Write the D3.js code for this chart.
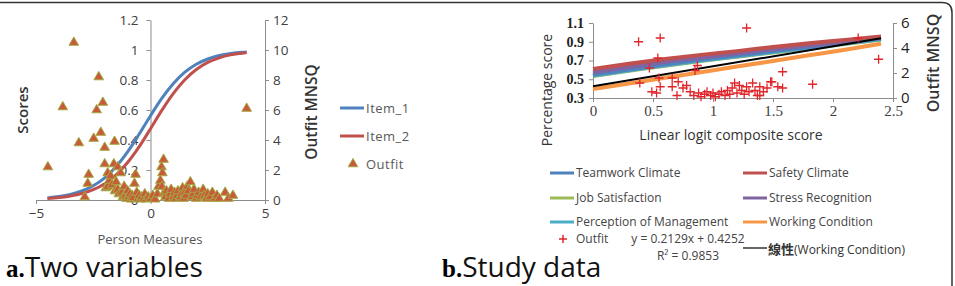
<!DOCTYPE html>
<html>
<head>
<meta charset="utf-8">
<script src="https://cdn.jsdelivr.net/npm/d3@7"></script>
<style>
body{margin:0;background:#fff}
svg text{font-family:"Open Sans",sans-serif}
</style>
</head>
<body>
<div id="chart"></div>
<script>
// ---- panel a data ----
var measuresA = [-4.5,-4,-3.5,-3,-2.5,-2,-1.5,-1,-0.5,0,0.5,1,1.5,2,2.5,3,3.5,4,4.2];
var item1 = [0.014,0.023,0.037,0.06,0.095,0.148,0.223,0.321,0.438,0.562,0.679,0.777,0.852,0.905,0.94,0.963,0.977,0.985,0.987];
var item2 = [0.01,0.016,0.027,0.043,0.069,0.109,0.168,0.25,0.354,0.475,0.599,0.711,0.802,0.87,0.917,0.948,0.968,0.979,0.983];
var outfitA = [
  [-4.48,2.2],[-3.83,6.2],[-3.35,10.5],[-3.13,3.8],[-2.87,0.2],[-2.74,1.1],[-2.7,1.7],[-2.48,4.1],[-2.35,6.0],[-2.26,8.2],
  [-2.17,4.5],[-2.08,6.5],[-2.0,3.5],[-2.0,2.4],[-1.95,0.8],[-1.87,1.8],[-1.87,0.9],[-1.8,1.3],[-1.74,1.6],[-1.68,1.0],
  [-1.6,2.4],[-1.57,3.9],[-1.55,0.6],[-1.5,1.2],[-1.43,2.2],[-1.43,0.7],[-1.38,0.4],[-1.3,1.8],[-1.25,0.5],[-1.2,0.2],
  [-1.15,0.9],[-1.1,0.3],[-1.05,0.1],[-1.0,0.6],[-0.95,0.2],[-0.9,0.4],[-0.85,0.05],[-0.8,0.3],[-0.75,0.15],[-0.7,1.1],
  [-0.65,1.7],[-0.6,0.5],[-0.55,0.1],[-0.5,0.3],[-0.45,0.05],[-0.4,0.2],[-0.3,0.1],[-0.25,0.4],[-0.2,0.05],[-0.1,0.2],
  [0.0,0.1],[0.1,0.3],[0.2,0.05],[0.3,0.4],[0.35,0.9],[0.43,1.3],[0.48,2.2],[0.5,0.9],[0.52,1.8],[0.57,2.7],
  [0.6,0.5],[0.65,0.2],[0.7,0.6],[0.8,0.1],[0.85,0.4],[0.9,0.7],[1.0,0.2],[1.05,0.5],[1.1,0.1],[1.15,0.3],
  [1.2,0.6],[1.3,0.2],[1.35,0.4],[1.4,0.8],[1.45,0.1],[1.5,0.5],[1.55,0.3],[1.6,0.9],[1.65,0.6],[1.74,1.2],
  [1.8,0.2],[1.85,0.4],[1.9,0.7],[2.0,0.1],[2.05,0.3],[2.1,0.5],[2.2,0.2],[2.3,0.7],[2.35,0.3],[2.45,0.1],
  [2.5,0.4],[2.6,0.2],[2.7,0.5],[2.8,0.1],[2.9,0.3],[3.0,0.1],[3.26,0.5],[3.4,0.1],[3.6,0.3],[4.2,6.1]
];
var ticksA = [0,0.2,0.4,0.6,0.8,1,1.2];
var ticksA2 = [0,2,4,6,8,10,12];

// ---- panel b data ----
var logitB = [0,0.3,0.6,0.9,1.2,1.5,1.8,2.1,2.4];
var seriesNames = ["Teamwork Climate","Safety Climate","Job Satisfaction","Stress Recognition","Perception of Management","Working Condition"];
var seriesColors = ["#4f81bd","#c0504d","#9bbb59","#8064a2","#4bacc6","#f79646"];
var teamwork   = [0.55,0.605,0.66,0.71,0.755,0.80,0.845,0.89,0.935];
var safety     = [0.61,0.665,0.715,0.76,0.80,0.845,0.885,0.92,0.955];
var jobSat     = [0.535,0.59,0.645,0.695,0.74,0.785,0.83,0.875,0.925];
var stress     = [0.575,0.63,0.685,0.73,0.775,0.82,0.86,0.90,0.945];
var perception = [0.54,0.595,0.65,0.70,0.745,0.79,0.835,0.88,0.928];
var working    = [0.395,0.455,0.515,0.575,0.635,0.695,0.755,0.815,0.88];
var trendX = [0,2.4];
var trendY = [0.4252,0.9362];
var outfitB = [
  [0.38,4.5],[0.39,1.2],[0.47,2.4],[0.49,0.5],[0.53,0.4],[0.54,3.2],[0.55,1.6],[0.56,4.8],[0.56,0.9],[0.66,1.6],
  [0.66,0.9],[0.7,0.2],[0.71,1.3],[0.75,0.8],[0.78,1.0],[0.81,0.5],[0.85,2.2],[0.87,2.6],[0.84,0.2],[0.88,0.4],
  [0.9,0.1],[0.93,0.3],[0.95,0.5],[0.98,0.2],[1.0,0.4],[1.02,0.1],[1.05,0.3],[1.07,0.5],[1.1,0.2],[1.12,0.6],
  [1.14,0.3],[1.16,0.8],[1.18,1.2],[1.2,0.4],[1.22,1.0],[1.24,0.6],[1.26,0.3],[1.28,0.9],[1.28,5.6],[1.3,0.5],
  [1.33,1.2],[1.35,0.6],[1.37,0.2],[1.39,0.9],[1.39,0.2],[1.42,0.5],[1.45,0.8],[1.48,1.3],[1.49,1.3],[1.54,0.9],
  [1.58,2.1],[1.58,0.8],[1.83,1.1],[2.21,4.8],[2.38,3.1]
];
var ticksBx = [0,0.5,1,1.5,2,2.5];
var ticksBy = [0.3,0.5,0.7,0.9,1.1];
var ticksBy2 = [0,2,4,6];

var W = 955, H = 286;
var svg = d3.select("#chart").append("svg").attr("width",W).attr("height",H);

// frame
svg.append("path")
  .attr("d","M0,2.5 H942 Q952,2.5 952,12.5 V286")
  .attr("fill","none").attr("stroke","#333").attr("stroke-width",1.5);

var axisCol = "#8c8c8c", labCol = "#404040";
function styleAxis(g, font, size, weight, col){
  g.selectAll("path,line").attr("stroke",axisCol);
  g.selectAll("text").style("font-family",font).style("font-size",size+"px")
    .style("font-weight",weight).attr("fill",col||labCol);
}

// ===== panel a =====
var xa = d3.scaleLinear().domain([-5,5]).range([36,265]);
var ya = d3.scaleLinear().domain([0,1.2]).range([200,20]);
var ya2 = d3.scaleLinear().domain([0,12]).range([200,20]);

var fmt = function(d){ return String(+d.toFixed(1)); };
var gx = svg.append("g").attr("transform","translate(0,200)")
  .call(d3.axisBottom(xa).tickValues([-5,0,5]).tickSize(4).tickSizeOuter(0).tickPadding(4));
styleAxis(gx,"Open Sans",13.5,400);
var gy = svg.append("g").attr("transform","translate("+xa(0)+",0)")
  .call(d3.axisLeft(ya).tickValues(ticksA).tickFormat(fmt).tickSize(4).tickSizeOuter(0).tickPadding(8));
styleAxis(gy,"Open Sans",13.5,400);
var gy2 = svg.append("g").attr("transform","translate(265,0)")
  .call(d3.axisRight(ya2).tickValues(ticksA2).tickSize(4).tickSizeOuter(0).tickPadding(4));
styleAxis(gy2,"Open Sans",13.5,400);

var lineA = function(vals){
  return d3.line().x(function(d,i){return xa(measuresA[i]);}).y(function(d){return ya(d);}).curve(d3.curveMonotoneX)(vals);
};
svg.append("path").attr("d",lineA(item1)).attr("fill","none").attr("stroke","#4f81bd").attr("stroke-width",3);
svg.append("path").attr("d",lineA(item2)).attr("fill","none").attr("stroke","#c0504d").attr("stroke-width",3);

var tri = d3.symbol().type(d3.symbolTriangle).size(40);
svg.append("g").selectAll("path").data(outfitA).enter().append("path")
  .attr("d",tri)
  .attr("transform",function(d){return "translate("+xa(d[0])+","+ya2(d[1])+")";})
  .attr("fill","#c9593b").attr("stroke","#a3a83e").attr("stroke-width",1);

svg.append("text").attr("transform","translate(28,110) rotate(-90)").attr("text-anchor","middle")
  .style("font-size","15px").style("font-weight",600).attr("fill","#333").text("Scores");
svg.append("text").attr("transform","translate(317,112) rotate(-90)").attr("text-anchor","middle")
  .style("font-size","15.5px").style("font-weight",600).attr("fill","#333").text("Outfit MNSQ");
svg.append("text").attr("x",150).attr("y",244).attr("text-anchor","middle")
  .style("font-size","13px").attr("fill","#555").text("Person Measures");

// legend a
var legA = [{name:"Item_1",color:"#4f81bd",y:108},{name:"Item_2",color:"#c0504d",y:136}];
legA.forEach(function(d){
  svg.append("line").attr("x1",340).attr("x2",364).attr("y1",d.y).attr("y2",d.y).attr("stroke",d.color).attr("stroke-width",3);
  svg.append("text").attr("x",366).attr("y",d.y).attr("dy","0.35em").style("font-size","13px")
    .style("letter-spacing","0.5px").attr("fill","#595959").text(d.name);
});
svg.append("path").attr("d",tri).attr("transform","translate(353,164)").attr("fill","#c9593b").attr("stroke","#a3a83e");
svg.append("text").attr("x",366).attr("y",164).attr("dy","0.35em").style("font-size","13px")
  .style("letter-spacing","0.5px").attr("fill","#595959").text("Outfit");

// caption a
var capA = svg.append("text").attr("x",6).attr("y",277);
capA.append("tspan").style("font-family","Liberation Serif,serif").style("font-weight",700).style("font-size","25px").text("a.");
capA.append("tspan").style("font-family","Open Sans").style("font-size","28px").attr("fill","#111").text("Two variables");

// ===== panel b =====
var xb = d3.scaleLinear().domain([0,2.5]).range([593,893]);
var yb = d3.scaleLinear().domain([0.3,1.1]).range([98,23]);
var yb2 = d3.scaleLinear().domain([0,6]).range([98,23]);

var gbx = svg.append("g").attr("transform","translate(0,98)")
  .call(d3.axisBottom(xb).tickValues(ticksBx).tickFormat(function(d){return String(d);}).tickSize(4).tickSizeOuter(0).tickPadding(3));
styleAxis(gbx,"Liberation Serif",15,400);
var gby = svg.append("g").attr("transform","translate(593,0)")
  .call(d3.axisLeft(yb).tickValues(ticksBy).tickFormat(function(d){return d.toFixed(1);}).tickSize(4).tickSizeOuter(0).tickPadding(5));
styleAxis(gby,"Liberation Serif",14,700,"#222");
var gby2 = svg.append("g").attr("transform","translate(893,0)")
  .call(d3.axisRight(yb2).tickValues(ticksBy2).tickFormat(d3.format("d")).tickSize(4).tickSizeOuter(0).tickPadding(4));
styleAxis(gby2,"Open Sans",15,400,"#222");

var seriesVals = [teamwork,safety,jobSat,stress,perception,working];
var drawOrder = [5,2,4,0,3,1];
var lineB = d3.line().x(function(d,i){return xb(logitB[i]);}).y(function(d){return yb(d);}).curve(d3.curveMonotoneX);
drawOrder.forEach(function(k){
  svg.append("path").attr("d",lineB(seriesVals[k])).attr("fill","none")
    .attr("stroke",seriesColors[k]).attr("stroke-width",4);
});
svg.append("path")
  .attr("d",d3.line().x(function(d,i){return xb(trendX[i]);}).y(function(d){return yb(d);})(trendY))
  .attr("fill","none").attr("stroke","#000").attr("stroke-width",2);

svg.append("g").selectAll("path").data(outfitB).enter().append("path")
  .attr("d","M-4.5,0H4.5M0,-4.5V4.5")
  .attr("transform",function(d){return "translate("+xb(d[0])+","+yb2(d[1])+")";})
  .attr("stroke","#e0262b").attr("stroke-width",1.3).attr("fill","none");

svg.append("text").attr("transform","translate(552,90) rotate(-90)").attr("text-anchor","middle")
  .style("font-size","14px").attr("fill","#333").text("Percentage  score");
svg.append("text").attr("transform","translate(939,63) rotate(-90)").attr("text-anchor","middle")
  .style("font-size","16px").style("font-weight",600).attr("fill","#333").text("Outfit MNSQ");
svg.append("text").attr("x",731).attr("y",140).attr("text-anchor","middle")
  .style("font-size","14px").attr("fill","#333").text("Linear logit composite score");

// legend b
var legB = [
  {i:0,x:550,y:173},{i:1,x:743,y:173},
  {i:2,x:550,y:198},{i:3,x:743,y:198},
  {i:4,x:550,y:222},{i:5,x:743,y:222}
];
legB.forEach(function(d){
  svg.append("line").attr("x1",d.x).attr("x2",d.x+24).attr("y1",d.y).attr("y2",d.y)
    .attr("stroke",seriesColors[d.i]).attr("stroke-width",3);
  svg.append("text").attr("x",d.x+26).attr("y",d.y).attr("dy","0.35em").style("font-size","12px")
    .attr("fill","#444").text(seriesNames[d.i]);
});
svg.append("path").attr("d","M-4,0H4M0,-4V4").attr("transform","translate(563,239)")
  .attr("stroke","#e0262b").attr("stroke-width",1.5);
svg.append("text").attr("x",576).attr("y",239).attr("dy","0.35em").style("font-size","12px").attr("fill","#444").text("Outfit");
svg.append("text").attr("x",688).attr("y",239).attr("dy","0.35em").attr("text-anchor","middle")
  .style("font-size","12px").attr("fill","#444").text("y = 0.2129x + 0.4252");
svg.append("text").attr("x",688).attr("y",256).attr("dy","0.35em").attr("text-anchor","middle")
  .style("font-size","12px").attr("fill","#444").text("R² = 0.9853");
svg.append("line").attr("x1",743).attr("x2",767).attr("y1",248).attr("y2",248).attr("stroke","#000").attr("stroke-width",1.2);
var trendLab = svg.append("text").attr("x",768).attr("y",248).attr("dy","0.35em").attr("fill","#333");
trendLab.append("tspan").style("font-family","Noto Sans CJK TC").style("font-size","13px").style("font-weight",700).text("線性");
trendLab.append("tspan").style("font-size","12px").text("(Working Condition)");

// caption b
var capB = svg.append("text").attr("x",442).attr("y",277);
capB.append("tspan").style("font-family","Liberation Serif,serif").style("font-weight",700).style("font-size","25px").text("b.");
capB.append("tspan").style("font-family","Open Sans").style("font-size","28px").attr("fill","#111").text("Study data");
</script>
</body>
</html>
